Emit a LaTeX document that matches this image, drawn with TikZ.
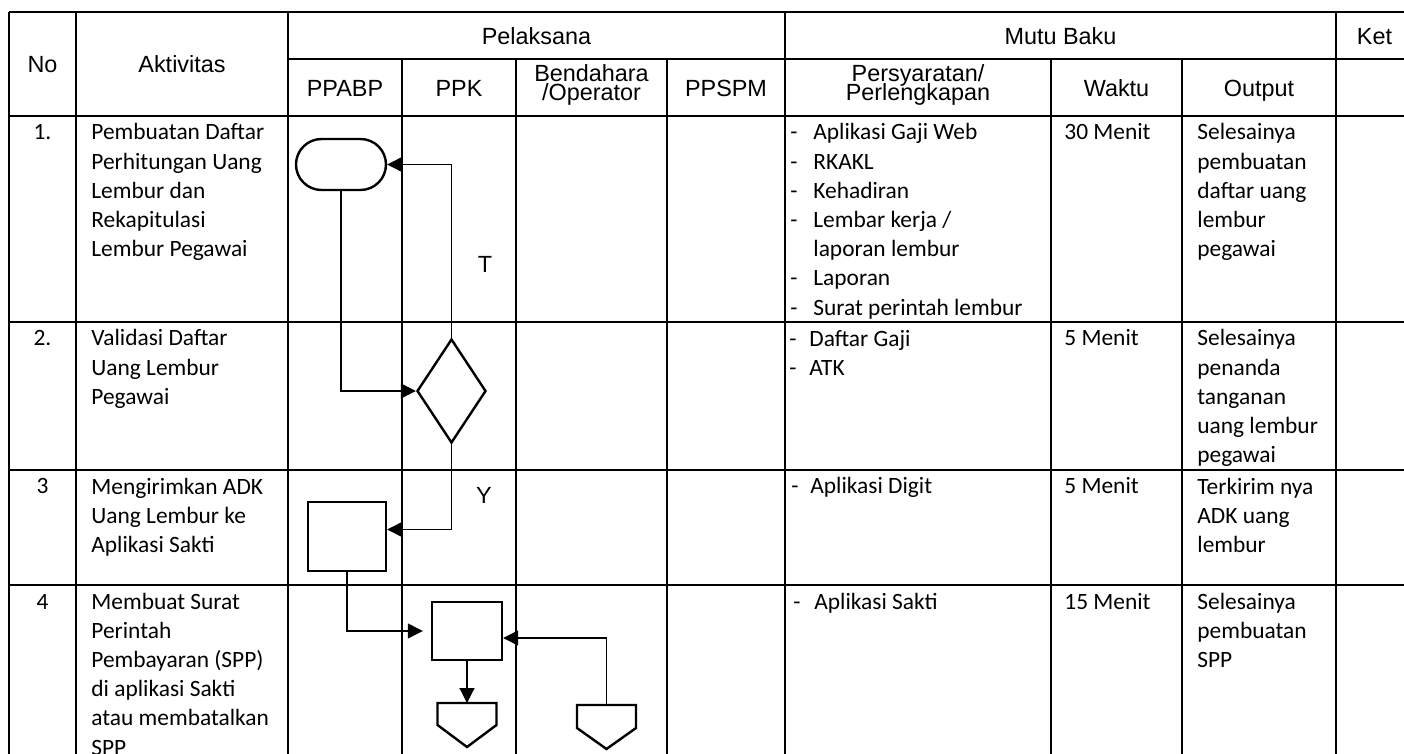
\documentclass[tikz,border=0pt]{standalone}
\usepackage{fontspec}
\setmainfont{Carlito}
\newfontfamily\hdfont{Liberation Sans}
\newcommand\hdsetup{\hdfont\fontsize{11.7}{9.5}\selectfont\lineskiplimit=-20pt\relax}
\usetikzlibrary{arrows.meta,positioning,calc,shapes.geometric,shapes.misc}
% multi-line nodes sit on the baseline of their last line
\tikzset{
  >=Triangle,
  grid/.style={line width=1pt},
  hd/.style={font=\hdsetup, align=center, anchor=base, inner sep=0pt},
  cell/.style={font=\fontsize{11.7}{14.6}\selectfont, align=left, anchor=base west, inner sep=0pt},
  num/.style={font=\fontsize{11.7}{14.6}\selectfont, anchor=base, inner sep=0pt},
  term/.style={rounded rectangle, draw, line width=1.2pt, minimum width=45pt, minimum height=25.5pt, inner sep=0pt},
  dec/.style={diamond, draw, line width=1.2pt, minimum width=34.5pt, minimum height=52pt, inner sep=0pt},
  proc/.style={rectangle, draw, line width=1.2pt, inner sep=0pt},
  shp/.style={line width=1.2pt, line join=miter},
  tr/.style={-{Triangle[length=7.5pt,width=7.5pt]}, line width=0.6pt}
}
\begin{document}
\begin{tikzpicture}[x=0.5pt,y=-0.5pt]
    \useasboundingbox (0,0) rectangle (1404,754);
    \clip (0,0) rectangle (1404,754);

    % Table grid
    \foreach \y in {12,116,322,470,585} {
        \draw[grid] (9,\y) -- (1404,\y);
    }
    \draw[grid] (288,59) -- (1404,59);
    \foreach \x in {9,76,288,785,1336} {
        \draw[grid] (\x,12) -- (\x,760);
    }
    \foreach \x in {402,516,667,1051,1182} {
        \draw[grid] (\x,59) -- (\x,760);
    }

    % Header
    \node[hd] (hNo) at (42.5,73) {No};
    \node[hd] (hAkt) at (182,73) {Aktivitas};
    \node[hd] (hPel) at (536.5,45) {Pelaksana};
    \node[hd] (hMutu) at (1060.5,45) {Mutu Baku};
    \node[hd] (hKet) at (1374.5,45) {Ket};
    \node[hd] (hPpabp) at (345,97) {PPABP};
    \node[hd] (hPpk) at (459,97) {PPK};
    \node[hd] (hBend) at (591.5,101) {Bendahara\\/Operator};
    \node[hd] (hPpspm) at (726,97) {PPSPM};
    \node[hd] (hSyarat) at (918,101) {Persyaratan/\\Perlengkapan};
    \node[hd] (hWaktu) at (1116.5,97) {Waktu};
    \node[hd] (hOut) at (1259,97) {Output};

    % Row 1
    \node[num] (no1) at (42.5,140) {1.};
    \node[cell] (akt1) at (91,256.8) {Pembuatan Daftar\\Perhitungan Uang\\Lembur dan\\Rekapitulasi\\Lembur Pegawai};
    \node[cell] (ds1) at (790,315.2) {-\\-\\-\\-\\\strut\\-\\-};
    \node[cell] (sy1) at (813,315.2) {Aplikasi Gaji Web\\RKAKL\\Kehadiran\\Lembar kerja /\\laporan lembur\\Laporan\\Surat perintah lembur};
    \node[cell] (wk1) at (1064,140) {30 Menit};
    \node[cell] (out1) at (1197,256.8) {Selesainya\\pembuatan\\daftar uang\\lembur\\pegawai};

    % Row 2
    \node[num] (no2) at (42.5,346) {2.};
    \node[cell] (akt2) at (91,404.4) {Validasi Daftar\\Uang Lembur\\Pegawai};
    \node[cell] (ds2) at (789,375.2) {-\\-};
    \node[cell] (sy2) at (809,375.2) {Daftar Gaji\\ATK};
    \node[cell] (wk2) at (1064,346) {5 Menit};
    \node[cell] (out2) at (1197,462.8) {Selesainya\\penanda\\tanganan\\uang lembur\\pegawai};

    % Row 3
    \node[num] (no3) at (42.5,494) {3};
    \node[cell] (akt3) at (91,552.4) {Mengirimkan ADK\\Uang Lembur ke\\Aplikasi Sakti};
    \node[cell] (ds3) at (791,494) {-};
    \node[cell] (sy3) at (810,494) {Aplikasi Digit};
    \node[cell] (wk3) at (1064,494) {5 Menit};
    \node[cell] (out3) at (1197,552.4) {Terkirim nya\\ADK uang\\lembur};

    % Row 4
    \node[num] (no4) at (42.5,609) {4};
    \node[cell] (akt4) at (91,755) {Membuat Surat\\Perintah\\Pembayaran (SPP)\\di aplikasi Sakti\\atau membatalkan\\SPP};
    \node[cell] (ds4) at (793,609) {-};
    \node[cell] (sy4) at (814,609) {Aplikasi Sakti};
    \node[cell] (wk4) at (1064,609) {15 Menit};
    \node[cell] (out4) at (1197,667.4) {Selesainya\\pembuatan\\SPP};

    % Flow symbols
    \node[term] (mulai) at (341,164.5) {};
    \node[dec] (valid) at (451.5,391) {};
    \node[proc, minimum width=39pt, minimum height=34.5pt] (kirim) at (347,536.5) {};
    \node[proc, minimum width=35pt, minimum height=29pt] (spp) at (467,631) {};
    \coordinate (op1) at (467,703);
    \coordinate (op2) at (606.5,705);
    \draw[shp] (op1) ++(-29.5,0) -- ++(59,0) -- ++(0,22) -- ++(-29.5,22) -- ++(-29.5,-22) -- cycle;
    \draw[shp] (op2) ++(-29.5,0) -- ++(59,0) -- ++(0,23) -- ++(-29.5,21) -- ++(-29.5,-21) -- cycle;

    % Flow lines
    \draw[tr] (valid.north) |- (mulai.east);
    \node[hd] (lblT) at (485,273) {T};
    \draw[tr] (mulai.south) |- (valid.west);
    \draw[tr] (valid.south) |- ([yshift=3.5pt]kirim.east);
    \node[hd] (lblY) at (484,503) {Y};
    \draw[tr, shorten >=4pt] (kirim.south) |- (spp.west);
    \draw[tr] (spp.south) -- (op1);
    \draw[tr] (op2) |- ([yshift=-3.5pt]spp.east);

\end{tikzpicture}
\end{document}
